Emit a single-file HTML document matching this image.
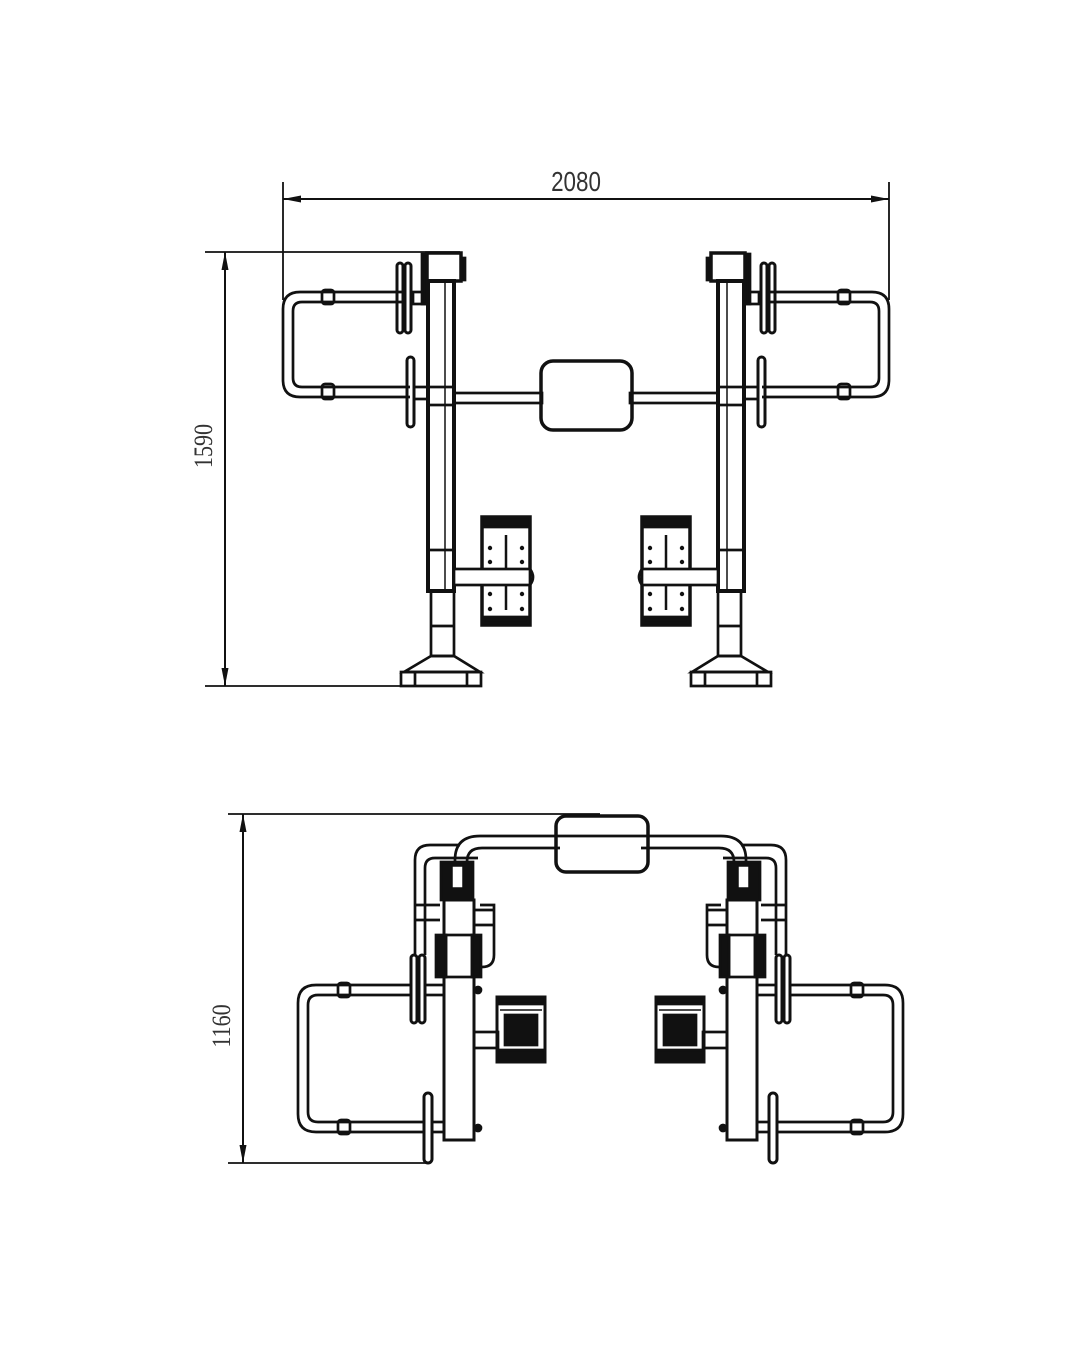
<!DOCTYPE html>
<html><head><meta charset="utf-8"><style>
html,body{margin:0;padding:0;background:#fff;width:1080px;height:1350px;overflow:hidden}
svg{display:block}
</style></head><body>
<svg width="1080" height="1350" viewBox="0 0 1080 1350" xmlns="http://www.w3.org/2000/svg" fill="none" stroke="#111" stroke-width="2.7">
<defs>
<marker id="ar" markerWidth="18" markerHeight="10" refX="18" refY="5" orient="auto" markerUnits="userSpaceOnUse">
<path d="M0,1.5 L18,5 L0,8.5 Z" fill="#111" stroke="none"/></marker>
<g id="topHalf">
 <path d="M405,292 H300 Q283,292 283,309 V380 Q283,397 300,397 H410"/>
 <path d="M405,302 H302 Q293,302 293,311 V378 Q293,387 302,387 H410"/>
 <rect x="322" y="290" width="12" height="14" rx="3"/>
 <rect x="322" y="384" width="12" height="15" rx="3"/>
 <rect x="397" y="263" width="6" height="70" rx="3" stroke-width="3"/>
 <rect x="405" y="263" width="6" height="70" rx="3" stroke-width="3"/>
 <rect x="407" y="357" width="7" height="70" rx="3.5" stroke-width="3"/>
 <rect x="413" y="292" width="15" height="12"/>
 <rect x="414" y="387" width="14" height="12"/>
 <rect x="427" y="253" width="34" height="28" stroke-width="3.5"/>
 <rect x="422" y="254" width="5" height="50" fill="#111"/>
 <rect x="461" y="258" width="4" height="22" fill="#111"/>
 <rect x="428" y="281" width="26" height="310" stroke-width="4"/>
 <line x1="445" y1="281" x2="445" y2="591" stroke-width="1.5" />
 <rect x="428" y="387" width="26" height="18"/>
 <rect x="428" y="550" width="26" height="41"/>
 <rect x="431" y="591" width="23" height="65"/>
 <line x1="431" y1="626" x2="454" y2="626"/>
 <path d="M431,656 L404,672 H480 L454,656 Z"/>
 <rect x="401" y="672" width="80" height="14"/>
 <line x1="415" y1="672" x2="415" y2="686"/><line x1="467" y1="672" x2="467" y2="686"/>
 <rect x="454" y="393" width="88" height="10"/>
 <rect x="482" y="517" width="48" height="108" stroke-width="3.5"/>
 <rect x="482" y="517" width="48" height="10" fill="#111"/>
 <rect x="484" y="617" width="44" height="6" fill="#111"/>
 <line x1="506" y1="535" x2="506" y2="610" stroke-width="2.5"/>
 <g fill="#111" stroke="none">
  <circle cx="490" cy="548" r="2.2"/><circle cx="522" cy="548" r="2.2"/>
  <circle cx="490" cy="562" r="2.2"/><circle cx="522" cy="562" r="2.2"/>
  <circle cx="490" cy="594" r="2.2"/><circle cx="522" cy="594" r="2.2"/>
  <circle cx="490" cy="609" r="2.2"/><circle cx="522" cy="609" r="2.2"/>
 </g>
 <rect x="454" y="569" width="76" height="16" fill="#fff"/>
 <path d="M530,569 Q536,577 530,585"/>
</g>
<g id="botHalf">
 <path d="M460,845 H430 Q415,845 415,860 V955"/>
 <path d="M478,858 H435 Q425,858 425,868 V955"/>
 <path d="M480,905 H494 V955 Q494,967 482,967"/>
 <line x1="415" y1="905" x2="440" y2="905"/><line x1="415" y1="920" x2="440" y2="920"/>
 <line x1="475" y1="910" x2="494" y2="910"/><line x1="475" y1="925" x2="494" y2="925"/>
 <path d="M455,870 V860 Q455,836 480,836 H560"/>
 <path d="M467,870 V862 Q467,848 482,848 H560"/>
 <rect x="441" y="862" width="32" height="38" fill="#111"/>
 <rect x="452" y="866" width="11" height="22" fill="#fff" stroke-width="1.5"/>
 <rect x="444" y="900" width="30" height="240" stroke-width="3"/>
 <rect x="436" y="935" width="10" height="42" fill="#111"/>
 <rect x="472" y="935" width="9" height="42" fill="#111"/>
 <rect x="446" y="935" width="26" height="42"/>
 <circle cx="478" cy="990" r="3" fill="#111"/>
 <circle cx="478" cy="1128" r="3" fill="#111"/>
 <path d="M412,985 H316 Q298,985 298,1003 V1114 Q298,1132 316,1132 H425"/>
 <path d="M412,995 H318 Q308,995 308,1005 V1112 Q308,1122 318,1122 H425"/>
 <rect x="338" y="983" width="12" height="14" rx="3"/>
 <rect x="338" y="1120" width="12" height="14" rx="3"/>
 <rect x="411" y="955" width="6" height="68" rx="3" stroke-width="3"/>
 <rect x="419" y="955" width="6" height="68" rx="3" stroke-width="3"/>
 <rect x="425" y="985" width="19" height="10"/>
 <rect x="424" y="1093" width="8" height="70" rx="4" stroke-width="3"/>
 <rect x="432" y="1122" width="12" height="10"/>
 <rect x="474" y="1032" width="24" height="16"/>
 <rect x="497" y="997" width="48" height="65" stroke-width="3"/>
 <rect x="497" y="997" width="48" height="7" fill="#111"/>
 <line x1="500" y1="1010" x2="542" y2="1010" stroke-width="1.5"/>
 <rect x="505" y="1015" width="32" height="30" fill="#111"/>
 <rect x="497" y="1050" width="48" height="12" fill="#111"/>
</g>
</defs>

<use href="#topHalf"/>
<use href="#topHalf" transform="translate(1172,0) scale(-1,1)"/>
<rect x="541" y="361" width="91" height="69" rx="12" stroke-width="3.5"/>
<line x1="283" y1="182" x2="283" y2="300" stroke-width="1.8"/>
<line x1="889" y1="182" x2="889" y2="300" stroke-width="1.8"/>
<line x1="300" y1="199" x2="283" y2="199" stroke-width="2" marker-end="url(#ar)"/>
<line x1="300" y1="199" x2="889" y2="199" stroke-width="2" marker-end="url(#ar)"/>
<line x1="205" y1="252" x2="460" y2="252" stroke-width="1.8"/>
<line x1="205" y1="686" x2="402" y2="686" stroke-width="1.8"/>
<line x1="225" y1="460" x2="225" y2="252" stroke-width="2" marker-end="url(#ar)"/>
<line x1="225" y1="460" x2="225" y2="686" stroke-width="2" marker-end="url(#ar)"/>
<text x="576" y="191" font-family="Liberation Sans, sans-serif" font-size="28" fill="#333" stroke="none" text-anchor="middle" transform="translate(576,0) scale(0.8,1) translate(-576,0)">2080</text>
<text x="0" y="0" font-family="Liberation Serif, serif" font-size="26" fill="#333" stroke="none" text-anchor="middle" transform="translate(212,446) rotate(-90) scale(0.85,1)">1590</text>

<use href="#botHalf"/>
<use href="#botHalf" transform="translate(1201,0) scale(-1,1)"/>
<line x1="560" y1="836" x2="641" y2="836"/>
<rect x="556" y="816" width="92" height="56" rx="10" stroke-width="3.5"/>
<line x1="228" y1="814" x2="600" y2="814" stroke-width="1.8"/>
<line x1="228" y1="1163" x2="428" y2="1163" stroke-width="1.8"/>
<line x1="243" y1="990" x2="243" y2="814" stroke-width="2" marker-end="url(#ar)"/>
<line x1="243" y1="990" x2="243" y2="1163" stroke-width="2" marker-end="url(#ar)"/>
<text x="0" y="0" font-family="Liberation Serif, serif" font-size="26" fill="#333" stroke="none" text-anchor="middle" transform="translate(230,1026) rotate(-90) scale(0.85,1)">1160</text>
</svg>
</body></html>
